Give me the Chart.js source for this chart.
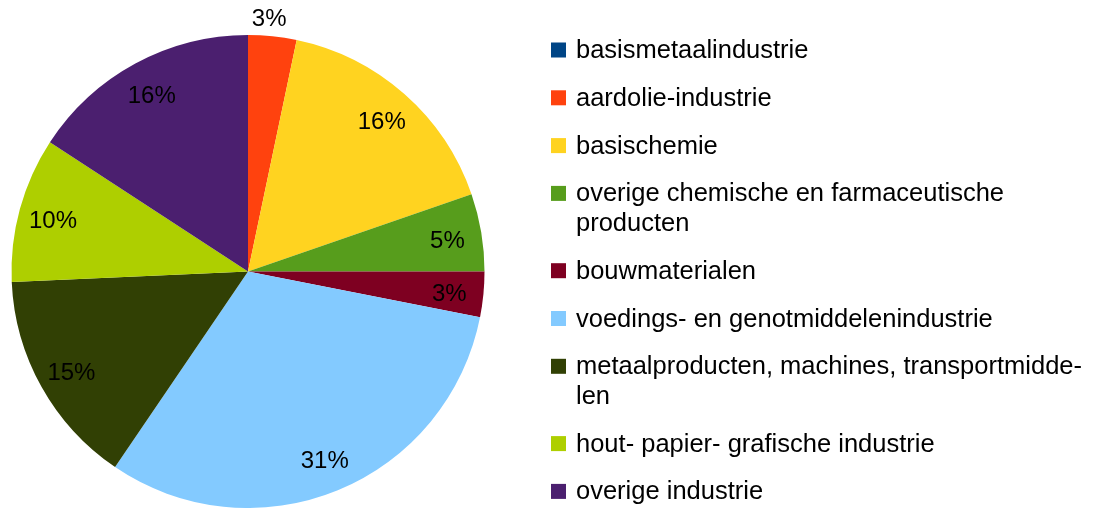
<!DOCTYPE html>
<html><head><meta charset="utf-8">
<script src="https://cdn.jsdelivr.net/npm/chart.js@4/dist/chart.umd.min.js"></script>
<style>html,body{margin:0;padding:0;background:#fff;}#wrap{width:1098px;height:508px;position:relative;}</style>
</head><body><div id="wrap"><canvas id="c" width="1098" height="508"></canvas></div>
<script>
const categories = ["basismetaalindustrie","aardolie-industrie","basischemie","overige chemische en farmaceutische producten","bouwmaterialen","voedings- en genotmiddelenindustrie","metaalproducten, machines, transportmiddelen","hout- papier- grafische industrie","overige industrie"];
const legendLines = [["basismetaalindustrie"],["aardolie-industrie"],["basischemie"],["overige chemische en farmaceutische","producten"],["bouwmaterialen"],["voedings- en genotmiddelenindustrie"],["metaalproducten, machines, transportmidde-","len"],["hout- papier- grafische industrie"],["overige industrie"]];
const values = [0, 3.3, 16.4, 5.3, 3.1, 31.4, 14.8, 9.9, 15.8];
const colors = ["#004586","#ff420e","#ffd320","#579d1c","#7e0021","#83caff","#314004","#aecf00","#4b1f6f"];
const PCT_FONT = '24px "Liberation Sans", Arial, sans-serif';
const LEG_FONT = '25.5px "Liberation Sans", Arial, sans-serif';

const labelPlugin = {
  id: 'pieLabels',
  afterDatasetsDraw(chart) {
    const ctx = chart.ctx;
    const meta = chart.getDatasetMeta(0);
    const total = values.reduce((a,b)=>a+b,0);
    ctx.save();
    ctx.font = PCT_FONT; ctx.fillStyle = '#000'; ctx.textAlign = 'center'; ctx.textBaseline = 'middle';
    meta.data.forEach((arc, i) => {
      if (!values[i]) return;
      const p = arc.getProps(['x','y','startAngle','endAngle','outerRadius'], true);
      let mid = (p.startAngle + p.endAngle) / 2;
      let r = p.outerRadius * 0.855;
      let dy = 3;
      if (i === 1) { r = p.outerRadius * 1.07; mid -= 0.02; dy = 0; }
      const pct = Math.round(values[i] / total * 100) + '%';
      ctx.fillText(pct, p.x + Math.cos(mid) * r, p.y + Math.sin(mid) * r + dy);
    });
    ctx.restore();
  }
};

const legendPlugin = {
  id: 'customLegend',
  afterDraw(chart) {
    const ctx = chart.ctx;
    ctx.save();
    ctx.font = LEG_FONT; ctx.textAlign = 'left'; ctx.textBaseline = 'middle';
    let y = 50;
    legendLines.forEach((lines, i) => {
      ctx.fillStyle = colors[i];
      ctx.fillRect(551, y - 7.5, 15, 15);
      ctx.fillStyle = '#000';
      lines.forEach((t, j) => ctx.fillText(t, 576, y + 1 + j * 29.5));
      y += 47.8 + (lines.length - 1) * 29.5;
    });
    ctx.restore();
  }
};

new Chart(document.getElementById('c'), {
  type: 'pie',
  data: { labels: categories, datasets: [{ data: values, backgroundColor: colors, borderWidth: 0 }] },
  options: {
    responsive: false, animation: false,
    layout: { padding: { left: 11, right: 613, top: 35, bottom: 0 } },
    plugins: { legend: { display: false }, tooltip: { enabled: false } }
  },
  plugins: [labelPlugin, legendPlugin]
});
</script>
</body></html>
